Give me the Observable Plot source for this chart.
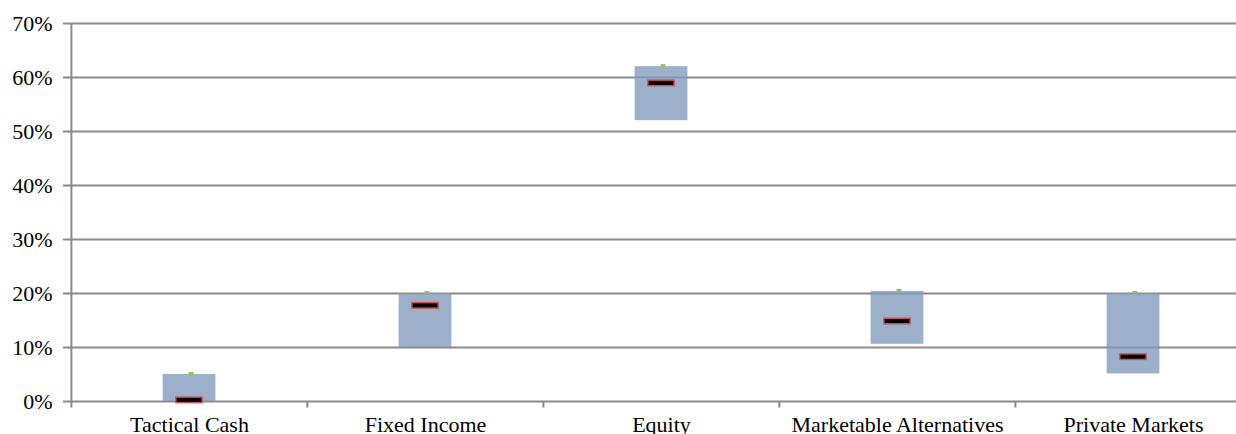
<!DOCTYPE html>
<html>
<head>
<meta charset="utf-8">
<script src="https://cdn.jsdelivr.net/npm/d3@7"></script>
<script src="https://cdn.jsdelivr.net/npm/@observablehq/plot@0.6"></script>
<style>
  html, body { margin: 0; padding: 0; background: #fff; overflow: hidden; }
  #chart { width: 1251px; }
  #chart svg { display: block; max-width: none !important; width: 1251px !important; height: 434px !important; font-family: "Liberation Serif", "Times New Roman", serif !important; }
  #chart svg text { font-family: "Liberation Serif", "Times New Roman", serif; }
</style>
</head>
<body>
<div id="chart"></div>
<script>
const categories = ["Tactical Cash", "Fixed Income", "Equity", "Marketable Alternatives", "Private Markets"];
const rangeMin = [0, 10, 52, 10.6, 5.1];
const rangeMax = [5, 20, 62, 20.4, 20];
const current = [0.3, 17.8, 59.0, 14.9, 8.3];
const target = [5, 20, 62, 20.4, 20];
const yTicks = [0, 10, 20, 30, 40, 50, 60, 70];

const data = categories.map((c, i) => ({
  cat: c,
  min: rangeMin[i] / 100,
  max: rangeMax[i] / 100,
  cur: current[i] / 100,
  tgt: target[i] / 100
}));

const W = 1251, H = 434, ML = 70, MT = 23, MB = 33;
const bw = (W - ML) / categories.length;
const grid = "#8a8a8a";

const chart = Plot.plot({
  width: W,
  height: H,
  marginLeft: ML,
  marginRight: 0,
  marginTop: MT,
  marginBottom: MB,
  style: { fontFamily: "Liberation Serif, Times New Roman, serif", fontSize: "22px", color: "#000", background: "#fff", maxWidth: "none" },
  x: { type: "band", domain: categories, padding: 0, label: null },
  y: { domain: [0, 0.7], label: null },
  marks: [
    Plot.ruleY(yTicks.map(v => v / 100), { stroke: grid, strokeWidth: 2 }),
    Plot.axisY(yTicks.map(v => v / 100), {
      tickSize: 7, tickPadding: 11, stroke: grid, strokeWidth: 2, fill: "#000",
      tickFormat: d => Math.round(d * 100) + "%", fontSize: 22, label: null
    }),
    Plot.axisX({ tickSize: 0, tickPadding: 15, fill: "#000", fontSize: 22, label: null }),
    Plot.ruleX(categories, {
      x: d => d, dx: -bw / 2,
      y1: -0.012, y2: (d, i) => (i === 0 ? 0.7 : 0),
      stroke: grid, strokeWidth: 2
    }),
    Plot.barY(data, {
      x: "cat", y1: "min", y2: "max",
      insetLeft: (bw - 53) / 2, insetRight: (bw - 53) / 2,
      fill: "#8099bd", fillOpacity: 0.78
    }),
    Plot.tickY(data, {
      x: "cat", y: "tgt", dx: 2, dy: -1,
      stroke: "#9bbb59", strokeWidth: 3, inset: (bw - 5) / 2
    }),
    Plot.tickY(data, {
      x: "cat", y: "cur",
      stroke: "#c65452", strokeWidth: 7, inset: (bw - 28) / 2
    }),
    Plot.tickY(data, {
      x: "cat", y: "cur",
      stroke: "#000", strokeWidth: 4, inset: (bw - 25) / 2
    })
  ]
});
document.getElementById("chart").appendChild(chart);
</script>
</body>
</html>
